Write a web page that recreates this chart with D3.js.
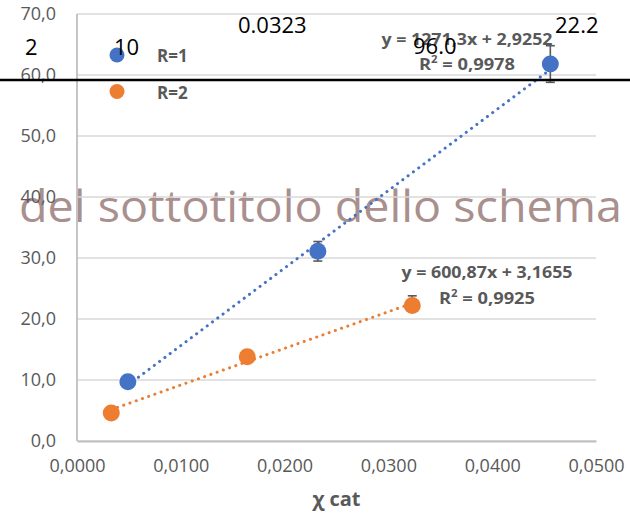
<!DOCTYPE html>
<html>
<head>
<meta charset="utf-8">
<script src="https://cdn.jsdelivr.net/npm/d3@7"></script>
<style>
  body { margin: 0; background: #fff; }
  svg { display: block; font-family: "Open Sans", "Noto Sans", sans-serif; }
</style>
</head>
<body>
<div id="chart"></div>
<script>
// series data
var seriesNames = ["R=1", "R=2"];
var blueX = [0.0049, 0.0232, 0.0456];
var blueY = [9.7, 31.1, 61.8];
var blueErrPlus = [0.6, 1.6, 3.0];
var blueErrMinus = [0.6, 1.6, 3.0];
var orangeX = [0.0033, 0.0164, 0.0323];
var orangeY = [4.6, 13.8, 22.2];
var orangeErrPlus = [0.5, 0.6, 1.6];
var orangeErrMinus = [0, 0, 0];

// linear trendlines as printed on the chart
var trendSlope = [1271.3, 600.87];
var trendIntercept = [2.9252, 3.1655];
var trendEq = ["y = 1271,3x + 2,9252", "y = 600,87x + 3,1655"];
var trendR2 = ["0,9978", "0,9925"];

var xTicks = [0, 0.01, 0.02, 0.03, 0.04, 0.05];
var yTicks = [0, 10, 20, 30, 40, 50, 60, 70];
var xTitle = "χ cat";
var subtitle = "del sottotitolo dello schema";
var strayLabels = ["2", "10", "0.0323", "96.0", "22.2"];

var colors = ["#4472c4", "#ed7d31"];
var W = 630, H = 514;

var svg = d3.select("#chart").append("svg")
    .attr("width", W)
    .attr("height", H);

var x = d3.scaleLinear().domain([0, 0.05]).range([77, 596]);
var y = d3.scaleLinear().domain([0, 70]).range([441, 14]);

var comma = function(f) { return function(d) { return f(d).replace(".", ","); }; };

// subtitle sits behind the plot
svg.append("text")
    .attr("x", 19)
    .attr("y", 222)
    .attr("font-size", 43)
    .attr("fill", "#a98f8d")
    .attr("textLength", 603)
    .attr("lengthAdjust", "spacingAndGlyphs")
    .text(subtitle);

// gridlines
svg.append("g")
    .selectAll("line")
    .data(yTicks)
    .join("line")
    .attr("x1", x(0)).attr("x2", x(0.05))
    .attr("y1", d => y(d)).attr("y2", d => y(d))
    .attr("stroke", "#d9d9d9")
    .attr("stroke-width", 1.5);

// axes
var xAxis = svg.append("g")
    .attr("transform", "translate(0," + y(0) + ")")
    .call(d3.axisBottom(x).tickValues(xTicks).tickSize(0).tickPadding(18).tickFormat(comma(d3.format(".4f"))));
var yAxis = svg.append("g")
    .attr("transform", "translate(" + x(0) + ",0)")
    .call(d3.axisLeft(y).tickValues(yTicks).tickSize(0).tickPadding(21).tickFormat(comma(d3.format(".1f"))));

[xAxis, yAxis].forEach(function(a) {
    a.select(".domain").attr("stroke", "#bfbfbf").attr("stroke-width", 1.8);
    a.selectAll("text").attr("fill", "#595959").attr("font-size", 18).attr("font-family", "Open Sans");
});
yAxis.select(".domain").attr("d", "M0," + y(70) + "V" + y(0));

svg.append("text")
    .attr("x", (x(0) + x(0.05)) / 2)
    .attr("y", 506)
    .attr("text-anchor", "middle")
    .attr("font-size", 20)
    .attr("font-weight", "bold")
    .attr("fill", "#595959")
    .text(xTitle);

var series = [
    {name: seriesNames[0], xs: blueX, ys: blueY, ep: blueErrPlus, em: blueErrMinus},
    {name: seriesNames[1], xs: orangeX, ys: orangeY, ep: orangeErrPlus, em: orangeErrMinus}
];

series.forEach(function(s, i) {
    var pts = s.xs.map(function(v, j) { return {x: v, y: s.ys[j], hi: s.ys[j] + s.ep[j], lo: s.ys[j] - s.em[j]}; });
    var x0 = d3.min(s.xs), x1 = d3.max(s.xs);
    var tl = [x0, x1].map(function(v) { return {x: v, y: trendSlope[i] * v + trendIntercept[i]}; });

    // trendline (round dots)
    svg.append("path")
        .datum(tl)
        .attr("fill", "none")
        .attr("stroke", colors[i])
        .attr("stroke-width", 3)
        .attr("stroke-linecap", "round")
        .attr("stroke-dasharray", "0.1 6.5")
        .attr("d", d3.line().x(d => x(d.x)).y(d => y(d.y)));

    // error bars
    var eb = svg.append("g").attr("stroke", "#595959").attr("stroke-width", 1.6);
    eb.selectAll("line.v").data(pts).join("line").attr("class", "v")
        .attr("x1", d => x(d.x)).attr("x2", d => x(d.x))
        .attr("y1", d => y(d.lo)).attr("y2", d => y(d.hi));
    eb.selectAll("line.t").data(pts).join("line").attr("class", "t")
        .attr("x1", d => x(d.x) - 4.5).attr("x2", d => x(d.x) + 4.5)
        .attr("y1", d => y(d.hi)).attr("y2", d => y(d.hi));
    eb.selectAll("line.b").data(pts.filter(d => d.lo < d.y)).join("line").attr("class", "b")
        .attr("x1", d => x(d.x) - 4.5).attr("x2", d => x(d.x) + 4.5)
        .attr("y1", d => y(d.lo)).attr("y2", d => y(d.lo));

    // markers
    svg.append("g").selectAll("circle")
        .data(pts)
        .join("circle")
        .attr("cx", d => x(d.x))
        .attr("cy", d => y(d.y))
        .attr("r", 8.5)
        .attr("fill", colors[i]);

    // legend
    svg.append("circle")
        .attr("cx", 117).attr("cy", 55 + i * 36.5)
        .attr("r", 7.5)
        .attr("fill", colors[i]);
    svg.append("text")
        .attr("x", 157).attr("y", 62 + i * 36.5)
        .attr("font-size", 17)
        .attr("font-weight", "bold")
        .attr("fill", "#595959")
        .text(s.name);
});

// trendline labels
var eqPos = [{cx: 467, y1: 45, y2: 70}, {cx: 487, y1: 278, y2: 304}];
eqPos.forEach(function(p, i) {
    var g = svg.append("g")
        .attr("font-weight", "bold")
        .attr("fill", "#595959")
        .attr("text-anchor", "middle");
    g.append("text")
        .attr("x", p.cx).attr("y", p.y1)
        .attr("font-size", 16)
        .attr("textLength", 171)
        .attr("lengthAdjust", "spacingAndGlyphs")
        .text(trendEq[i]);
    var r = g.append("text")
        .attr("x", p.cx).attr("y", p.y2)
        .attr("font-size", 16)
        .attr("textLength", 96)
        .attr("lengthAdjust", "spacingAndGlyphs");
    r.append("tspan").text("R");
    r.append("tspan").attr("font-size", 10).attr("dy", -7).text("2");
    r.append("tspan").attr("dy", 7).text(" = " + trendR2[i]);
});

// stray black line and labels on top
svg.append("line")
    .attr("x1", 0).attr("x2", W)
    .attr("y1", 80).attr("y2", 80)
    .attr("stroke", "#000")
    .attr("stroke-width", 2.6);

var strayPos = [[25, 55], [114, 55], [238, 33], [413, 54], [555, 33]];
svg.append("g")
    .selectAll("text")
    .data(strayLabels)
    .join("text")
    .attr("x", (d, i) => strayPos[i][0])
    .attr("y", (d, i) => strayPos[i][1])
    .attr("font-size", 22)
    .attr("fill", "#000")
    .text(d => d);
</script>
</body>
</html>
